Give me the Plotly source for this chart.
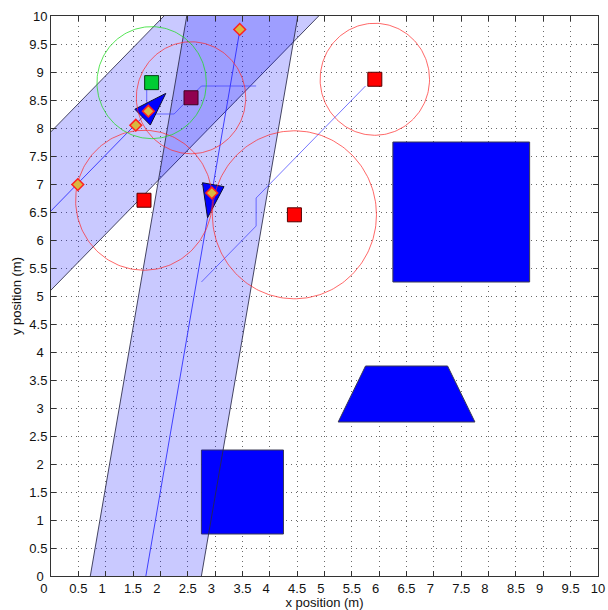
import numpy as np
import plotly.graph_objects as go

# ---------------- data ----------------
# obstacles (polygon vertices)
obs1_x = [6.25, 8.75, 8.75, 6.25]
obs1_y = [5.25, 5.25, 7.75, 7.75]
obs2_x = [2.75, 4.25, 4.25, 2.75]
obs2_y = [0.75, 0.75, 2.25, 2.25]
obs3_x = [5.25, 7.75, 7.25, 5.75]
obs3_y = [2.75, 2.75, 3.75, 3.75]

# landmarks (red squares) and their circles
lm_x = [1.70, 4.45, 5.92]
lm_y = [6.71, 6.45, 8.87]
lm_r = [1.25, 1.50, 1.00]

# goal (green) and target (maroon)
goal_x = [1.84]
goal_y = [8.81]
goal_r = [1.0]
tgt_x = [2.56]
tgt_y = [8.54]
tgt_r = [1.0]

# robots
rob_x = [1.78, 2.94]
rob_y = [8.30, 6.84]
rob_heading = [45.0, -100.0]       # degrees
band_halfwidth = [1.0, 1.0]
ray_back = [3.0, 2.96]
ray_fwd = [0.0, 7.5]

# detections (diamonds)
det_x = [0.49, 1.55, 1.78, 3.45, 2.94]
det_y = [6.99, 8.05, 8.30, 9.76, 6.84]

# planned paths
path1_x = [1.75, 1.75, 2.25, 2.75, 3.75]
path1_y = [8.80, 8.25, 8.25, 8.75, 8.75]
path2_x = [2.75, 3.75, 3.75, 5.75]
path2_y = [5.25, 6.25, 6.75, 8.75]

tick_vals = [i * 0.5 for i in range(21)]

# ---------------- figure ----------------
fig = go.Figure()

def poly(xs, ys, fill, line, width=1):
    fig.add_trace(go.Scatter(x=list(xs) + [xs[0]], y=list(ys) + [ys[0]],
                             mode="lines", fill="toself", fillcolor=fill,
                             line=dict(color=line, width=width),
                             hoverinfo="skip", showlegend=False))

for ox, oy in [(obs1_x, obs1_y), (obs2_x, obs2_y), (obs3_x, obs3_y)]:
    poly(ox, oy, "#0000ff", "#3a3a55")

# sensing bands
L = 14.0
for x, y, hd, hw in zip(rob_x, rob_y, rob_heading, band_halfwidth):
    a = np.radians(hd)
    h = np.array([np.cos(a), np.sin(a)])
    p = np.array([-np.sin(a), np.cos(a)])
    c = np.array([x, y])
    pts = [c - L * h + hw * p, c + L * h + hw * p, c + L * h - hw * p, c - L * h - hw * p]
    poly([q[0] for q in pts], [q[1] for q in pts], "rgba(0,0,255,0.21)", "rgba(40,40,70,0.85)")

# rays (center lines)
for x, y, hd, b, f in zip(rob_x, rob_y, rob_heading, ray_back, ray_fwd):
    a = np.radians(hd)
    h = np.array([np.cos(a), np.sin(a)])
    s = np.array([x, y]) - b * h
    e = np.array([x, y]) + f * h
    fig.add_trace(go.Scatter(x=[s[0], e[0]], y=[s[1], e[1]], mode="lines",
                             line=dict(color="rgba(40,40,255,0.85)", width=1),
                             hoverinfo="skip", showlegend=False))

# planned paths
for px, py in [(path1_x, path1_y), (path2_x, path2_y)]:
    fig.add_trace(go.Scatter(x=px, y=py, mode="lines",
                             line=dict(color="rgba(60,60,255,0.7)", width=1),
                             hoverinfo="skip", showlegend=False))

# robots (triangles)
for x, y, hd in zip(rob_x, rob_y, rob_heading):
    a = np.radians(hd)
    h = np.array([np.cos(a), np.sin(a)])
    p = np.array([-np.sin(a), np.cos(a)])
    c = np.array([x, y])
    apex = c + 0.45 * h
    b1 = c - 0.15 * h + 0.2 * p
    b2 = c - 0.15 * h - 0.2 * p
    poly([apex[0], b1[0], b2[0]], [apex[1], b1[1], b2[1]], "#0000ff", "#101030")

# circles
t = np.linspace(0, 2 * np.pi, 200)
for cx, cy, r in zip(lm_x + tgt_x, lm_y + tgt_y, lm_r + tgt_r):
    fig.add_trace(go.Scatter(x=cx + r * np.cos(t), y=cy + r * np.sin(t), mode="lines",
                             line=dict(color="rgba(255,40,40,0.7)", width=1),
                             hoverinfo="skip", showlegend=False))
for cx, cy, r in zip(goal_x, goal_y, goal_r):
    fig.add_trace(go.Scatter(x=cx + r * np.cos(t), y=cy + r * np.sin(t), mode="lines",
                             line=dict(color="rgba(30,220,30,0.75)", width=1),
                             hoverinfo="skip", showlegend=False))

# squares
fig.add_trace(go.Scatter(x=lm_x, y=lm_y, mode="markers",
                         marker=dict(symbol="square", size=14, color="#ff0000",
                                     line=dict(color="#550000", width=1)),
                         hoverinfo="skip", showlegend=False))
fig.add_trace(go.Scatter(x=tgt_x, y=tgt_y, mode="markers",
                         marker=dict(symbol="square", size=14, color="#900050",
                                     line=dict(color="#400020", width=1)),
                         hoverinfo="skip", showlegend=False))
fig.add_trace(go.Scatter(x=goal_x, y=goal_y, mode="markers",
                         marker=dict(symbol="square", size=14, color="#00cc33",
                                     line=dict(color="#004010", width=1)),
                         hoverinfo="skip", showlegend=False))

# detections
fig.add_trace(go.Scatter(x=det_x, y=det_y, mode="markers",
                         marker=dict(symbol="diamond", size=9, color="#d8b840",
                                     line=dict(color="#ff2020", width=1.5)),
                         hoverinfo="skip", showlegend=False))

NB = "\u00a0"
def xlab(v):
    if v == 0:
        return "0" + NB * 4
    if v == 10:
        return "10"
    if float(v).is_integer():
        return str(int(v)) + NB * 2
    return f"{v:g}"

def ylab(v):
    if v == 10:
        return "10"
    if float(v).is_integer():
        return str(int(v)) + NB
    return f"{v:g}"

font = dict(family="Liberation Sans, Arial, sans-serif", size=13, color="#111")
axis_common = dict(range=[0, 10], tickvals=tick_vals, showgrid=True,
                   gridcolor="#6a6a6a", gridwidth=1, griddash="1px,4px",
                   zeroline=False, showline=True, linecolor="#333", linewidth=1,
                   mirror="allticks", ticks="inside", ticklen=5, tickcolor="#333",
                   tickfont=font, automargin=False, tickangle=0)

fig.update_layout(
    width=608, height=610,
    margin=dict(l=51, r=10, t=16, b=34),
    paper_bgcolor="white", plot_bgcolor="white",
    font=font,
    xaxis=dict(**axis_common, ticktext=[xlab(v) for v in tick_vals],
               title=dict(text="x position (m)", font=font, standoff=2)),
    yaxis=dict(**axis_common, ticktext=[ylab(v) for v in tick_vals],
               title=dict(text="y position (m)", font=font, standoff=4)),
)

fig.write_html("out.html", config={"displayModeBar": False},
               post_script="document.body.style.margin='0px';document.body.style.overflow='hidden';")
